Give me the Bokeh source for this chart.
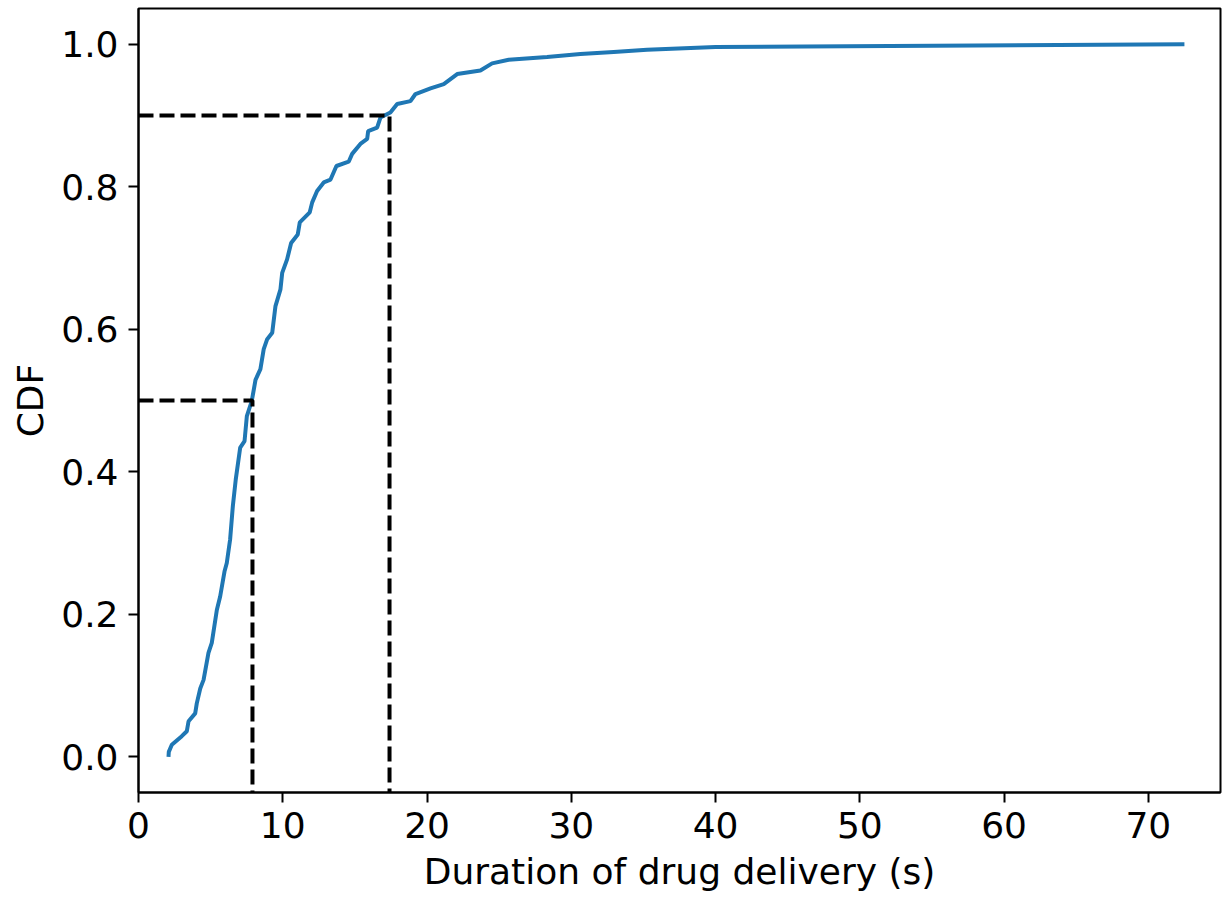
from bokeh.plotting import figure
from bokeh.models import Range1d, FixedTicker, PrintfTickFormatter
from bokeh.embed import file_html
from bokeh.resources import INLINE

# CDF curve
duration_s = [2.08, 2.10, 2.31, 3.00, 3.35, 3.47, 3.93, 4.04, 4.28, 4.51, 4.85, 5.08,
              5.43, 5.66, 5.96, 6.12, 6.35, 6.54, 6.74, 7.05, 7.35, 7.51, 7.85, 8.11,
              8.45, 8.68, 8.92, 9.27, 9.49, 9.84, 9.96, 10.30, 10.58, 11.04, 11.18,
              11.87, 12.04, 12.38, 12.84, 13.31, 13.72, 14.57, 14.81, 15.38, 15.85,
              15.92, 16.54, 16.77, 17.46, 17.93, 18.85, 19.20, 20.24, 21.16, 22.09,
              23.70, 24.51, 25.66, 28.32, 30.63, 32.94, 35.25, 40.00, 72.50]
cdf = [0.000, 0.007, 0.017, 0.029, 0.036, 0.050, 0.061, 0.075, 0.096, 0.108, 0.146, 0.160,
       0.206, 0.225, 0.260, 0.272, 0.305, 0.352, 0.389, 0.434, 0.443, 0.478, 0.499, 0.529,
       0.544, 0.572, 0.586, 0.595, 0.632, 0.656, 0.679, 0.698, 0.721, 0.733, 0.750,
       0.764, 0.778, 0.794, 0.806, 0.810, 0.829, 0.835, 0.846, 0.860, 0.867,
       0.878, 0.883, 0.897, 0.904, 0.916, 0.920, 0.930, 0.938, 0.944, 0.958,
       0.963, 0.973, 0.978, 0.982, 0.986, 0.989, 0.992, 0.996, 1.000]

# quantile markers
quantile_levels = [0.5, 0.9]
quantile_values = [7.9, 17.4]

x_ticks = [0, 10, 20, 30, 40, 50, 60, 70]
y_ticks = [0.0, 0.2, 0.4, 0.6, 0.8, 1.0]

X_MIN, X_MAX = 0, 75
Y_MIN, Y_MAX = -0.05, 1.05

FONT = "DejaVu Sans"
TICK_FS = "36px"
LABEL_FS = "36px"

p = figure(frame_width=1082, frame_height=784, output_backend="svg", toolbar_location=None,
           x_range=Range1d(X_MIN, X_MAX), y_range=Range1d(Y_MIN, Y_MAX),
           min_border_left=138, min_border_right=5, min_border_top=8, min_border_bottom=90)

p.line(duration_s, cdf, line_color="#1f77b4", line_width=4)

for lvl, val in zip(quantile_levels, quantile_values):
    p.line([X_MIN, val, val], [lvl, lvl, Y_MIN], line_color="black", line_width=4,
           line_dash="15 6")

p.xgrid.visible = False
p.ygrid.visible = False
p.outline_line_color = "black"
p.outline_line_width = 2
p.outline_line_alpha = 1
p.background_fill_color = "white"
p.border_fill_color = "white"

p.xaxis.ticker = FixedTicker(ticks=x_ticks)
p.yaxis.ticker = FixedTicker(ticks=y_ticks)
p.yaxis.formatter = PrintfTickFormatter(format="%.1f")
p.xaxis.axis_label = "Duration of drug delivery (s)"
p.yaxis.axis_label = "CDF"

for ax in (p.xaxis, p.yaxis):
    ax.axis_line_color = "black"
    ax.axis_line_width = 2
    ax.major_tick_line_color = "black"
    ax.major_tick_line_width = 2
    ax.major_tick_out = 10
    ax.major_tick_in = 0
    ax.minor_tick_line_color = None
    ax.major_label_text_font = FONT
    ax.major_label_text_font_size = TICK_FS
    ax.major_label_text_color = "black"
    ax.axis_label_text_font = FONT
    ax.axis_label_text_font_size = LABEL_FS
    ax.axis_label_text_font_style = "normal"
    ax.axis_label_text_color = "black"

p.xaxis.major_label_standoff = 9
p.yaxis.major_label_standoff = 10
p.xaxis.axis_label_standoff = 10
p.yaxis.axis_label_standoff = 7

open("out.html", "w").write(file_html(p, INLINE))
